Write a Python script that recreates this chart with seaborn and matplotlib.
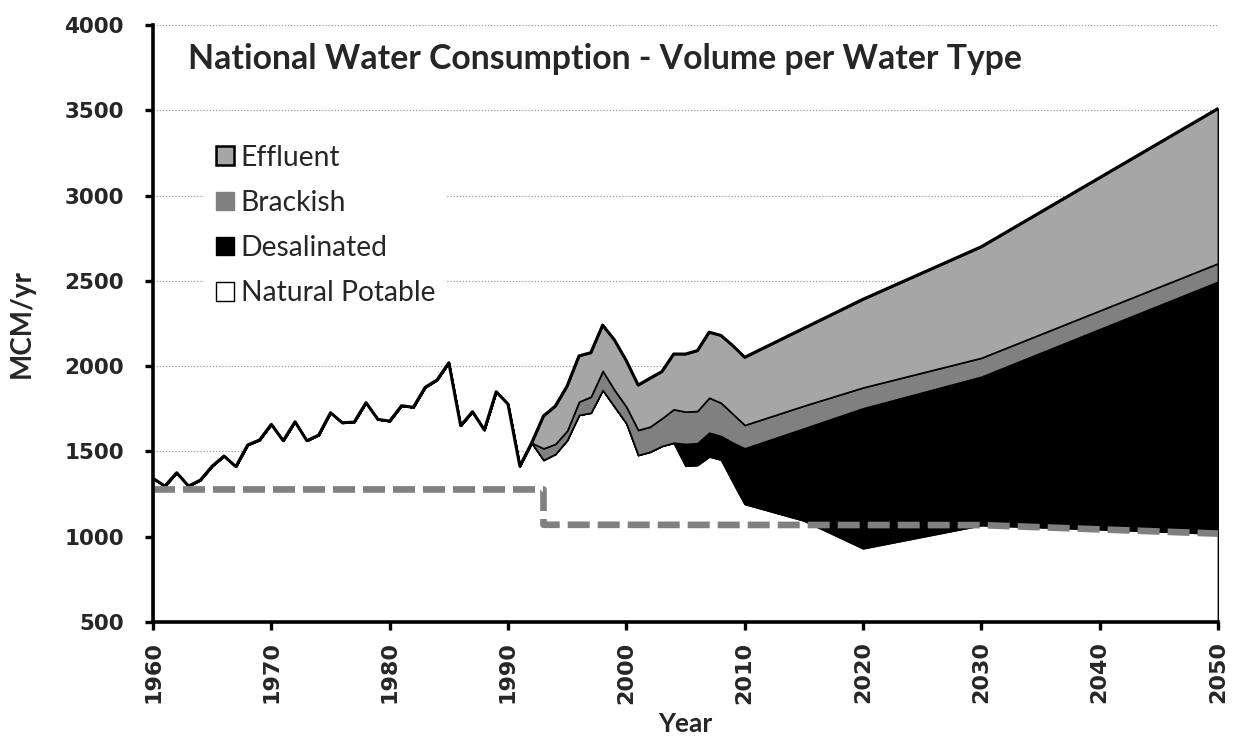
import numpy as np
import pandas as pd
import matplotlib
matplotlib.use("Agg")
import matplotlib.pyplot as plt
import seaborn as sns
from matplotlib.patches import Patch

# ---------------- data ----------------
years = list(range(1960, 2011)) + [2015, 2020, 2030, 2040, 2050]

natural = [1342, 1297, 1375, 1297, 1332, 1414, 1473, 1411, 1538, 1567,
           1659, 1563, 1674, 1563, 1596, 1727, 1668, 1672, 1786, 1688,
           1678, 1768, 1759, 1876, 1919, 2020, 1651, 1733, 1626, 1850,
           1778, 1414, 1550, 1450, 1485, 1567, 1714, 1727, 1860, 1762,
           1665, 1479, 1498, 1532, 1551, 1416, 1420, 1470, 1452, 1320,
           1192, 1095, 932, 1068, 1044, 1018]

desalinated = [0] * 44 + [0, 128, 128, 140, 138, 231,
                          326, 540, 821, 870, 1173, 1477]

brackish = [0] * 33 + [68, 59, 55, 78, 94, 112, 98,
                       97, 147, 147, 162, 196, 189, 189, 205, 195, 169,
                       137, 133, 122, 111, 109, 108]

effluent = [0] * 33 + [190, 222, 262, 268, 258, 269, 293,
                       270, 263, 284, 274, 324, 338, 354, 384, 395, 400,
                       397, 454, 517, 651, 779, 907]

alloc_years = [1960, 1993, 1993, 2030, 2050]
alloc_values = [1277, 1277, 1070, 1068, 1018]

series_names = ["Natural Potable", "Desalinated", "Brackish", "Effluent"]
series_colors = ["#ffffff", "#000000", "#808080", "#a6a6a6"]
title_text = "National Water Consumption - Volume per Water Type"

# ---------------- plot ----------------
sns.set_theme(style="white")
plt.rcParams["font.family"] = ["Lato", "DejaVu Sans"]

df = pd.DataFrame({"year": years, "natural": natural, "desal": desalinated,
                   "brackish": brackish, "effluent": effluent})
df["total"] = df[["natural", "desal", "brackish", "effluent"]].sum(axis=1)
alloc = pd.DataFrame({"year": alloc_years, "value": alloc_values})

fig = plt.figure(figsize=(12.39, 7.38), dpi=100)
ax = fig.add_axes([0.1235, 0.1572, 0.8595, 0.8089])

ax.stackplot(df["year"], df["natural"], df["desal"], df["brackish"], df["effluent"],
             colors=series_colors, edgecolor="black", linewidth=1.2, zorder=2)

sns.lineplot(data=df, x="year", y="total", color="black", linewidth=2.2,
             ax=ax, zorder=3, estimator=None, sort=False)
sns.lineplot(data=alloc, x="year", y="value", color="#808080", linewidth=4.8,
             ax=ax, zorder=4, estimator=None, sort=False)
ln = ax.lines[-1]
ln.set_dashes((3.3, 1.2))
ln.set_dash_capstyle("butt")

ax.set_xlim(1960, 2050)
ax.set_ylim(500, 4000)
ax.set_xticks(range(1960, 2051, 10))
ax.set_yticks(range(500, 4001, 500))

ax.set_axisbelow(True)
ax.yaxis.grid(True, linestyle=(0, (1, 1.5)), color="#9a9a9a", linewidth=0.9)
ax.xaxis.grid(False)

for s in ["top", "right"]:
    ax.spines[s].set_visible(False)
for s in ["left", "bottom"]:
    ax.spines[s].set_linewidth(2.6)
    ax.spines[s].set_color("black")
    ax.spines[s].set_zorder(6)

ax.tick_params(axis="both", which="major", direction="out", length=6, width=2.4,
               color="black", bottom=True, left=True)
ax.tick_params(axis="y", pad=15)
ax.tick_params(axis="x", pad=8)
for lab in ax.get_yticklabels():
    lab.set_fontfamily("DejaVu Sans")
    lab.set_fontweight("bold")
    lab.set_fontsize(15.5)
for lab in ax.get_xticklabels():
    lab.set_fontfamily("DejaVu Sans")
    lab.set_fontweight("bold")
    lab.set_fontsize(16)
    lab.set_rotation(90)

ax.set_xlabel("Year", fontsize=19, fontweight="bold", labelpad=6)
ax.set_ylabel("MCM/yr", fontsize=20, fontweight="bold", labelpad=21)

ax.text(0.033, 0.943, title_text, transform=ax.transAxes, fontsize=24.3,
        fontweight="bold", va="center", ha="left", zorder=7,
        bbox=dict(facecolor="white", edgecolor="none", pad=12))

handles = [Patch(facecolor="#a6a6a6", edgecolor="black", linewidth=1.8),
           Patch(facecolor="#808080", edgecolor="#808080", linewidth=1.0),
           Patch(facecolor="#000000", edgecolor="black", linewidth=1.0),
           Patch(facecolor="#ffffff", edgecolor="black", linewidth=1.0)]
labels = ["Effluent", "Brackish", "Desalinated", "Natural Potable"]
leg = ax.legend(handles, labels, loc="upper left", bbox_to_anchor=(0.035, 0.842),
                frameon=True, facecolor="white", edgecolor="none", framealpha=1,
                fancybox=False, fontsize=20.3, handlelength=0.64, handleheight=0.64,
                handletextpad=0.25, labelspacing=0.68, borderpad=0.4)
leg.set_zorder(7)

fig.savefig("out.png", dpi=100)
